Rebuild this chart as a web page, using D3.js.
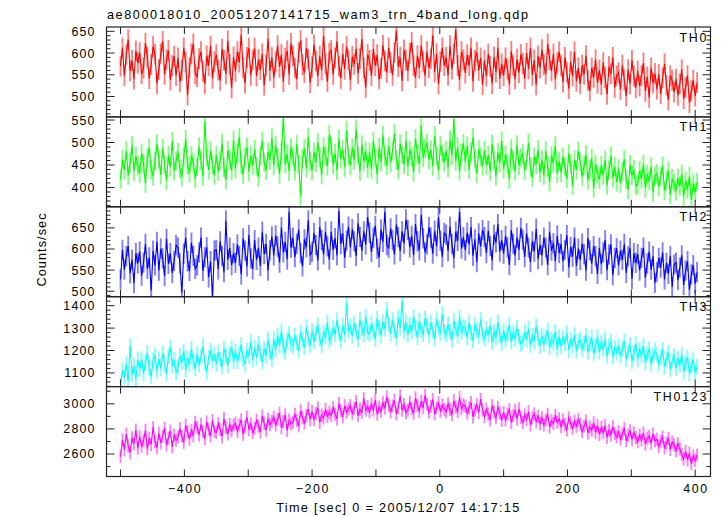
<!DOCTYPE html>
<html><head><meta charset="utf-8">
<script src="https://cdn.jsdelivr.net/npm/d3@7"></script>
<style>body{margin:0;background:#fff}svg{display:block}text{font-family:"Liberation Sans",Arial,Helvetica,sans-serif;fill:#000}</style>
</head><body>
<script>
// ---- data ----
const titleText = "ae800018010_20051207141715_wam3_trn_4band_long.qdp";
const xLabel = "Time [sec] 0 = 2005/12/07 14:17:15";
const yLabel = "Counts/sec";
const timeStart = -500, timeStep = 3;
const seriesNames = ["TH0", "TH1", "TH2", "TH3", "TH0123"];
const seriesErrors = [24, 21, 24, 34, 52];
const xTickLabels = [-400, -200, 0, 200, 400];
const th0 = [570,612,548,596,631,559,583,540,605,577, 601,552,566,623,590,541,574,615,597,530, 562,598,627,551,584,606,538,571,593,548, 589,534,560,612,579,503,566,598,621,552, 545,587,603,558,529,594,571,616,542,580, 596,561,537,609,583,552,628,574,520,591, 558,603,579,642,566,531,590,612,549,584, 611,547,585,562,598,526,572,633,559,590, 543,580,617,568,596,534,588,605,551,622, 594,566,540,601,629,573,555,612,586,532, 568,619,582,547,593,561,640,576,534,600, 606,551,589,627,570,542,598,563,615,584, 537,592,574,610,553,587,632,566,521,596, 583,548,609,571,596,540,565,618,582,555, 612,578,549,601,652,569,590,536,607,584, 559,600,625,571,543,594,565,617,580,548, 603,566,587,641,556,598,529,580,612,571, 590,549,617,563,598,655,571,538,603,584, 554,596,571,612,535,583,602,560,589,527, 583,547,598,569,530,591,556,612,541,575, 548,589,563,528,604,571,540,586,555,597, 576,541,600,563,612,549,584,527,593,566, 608,573,552,621,585,559,598,540,577,603, 571,533,590,556,518,580,547,603,535,566, 529,572,551,594,537,513,566,544,585,531, 561,527,578,543,505,569,552,590,521,548, 555,516,572,538,501,562,529,583,547,520, 559,524,548,577,512,545,498,566,531,553, 517,551,506,543,575,526,492,548,537,510, 540,503,529,562,495,521,548,486,513,537, 501,532];
const th1 = [418,462,439,481,427,455,494,436,470,448, 431,476,452,409,465,488,440,425,459,497, 463,428,487,451,416,472,445,503,437,460, 478,441,423,466,507,449,432,471,455,419, 446,490,461,425,548,468,439,482,451,427, 472,436,459,498,444,417,483,462,437,505, 441,476,512,452,428,466,490,435,471,448, 485,447,423,470,503,456,438,479,461,510, 449,493,466,430,481,555,452,474,436,488, 470,437,496,452,381,464,487,443,512,459, 438,479,455,501,466,428,490,471,447,518, 492,451,476,437,508,463,484,445,527,470, 449,488,461,530,472,436,495,458,481,443, 478,441,503,466,429,489,457,516,470,448, 492,455,481,520,462,439,497,473,451,505, 446,483,468,434,509,475,452,538,466,487, 499,461,484,447,515,470,438,493,476,456, 482,444,506,471,552,459,490,436,477,498, 457,493,440,478,512,463,431,485,468,447, 483,449,472,436,497,461,425,478,455,504, 441,472,453,418,487,460,436,495,449,466, 475,438,461,499,445,422,468,451,484,433, 462,427,481,446,412,470,455,493,431,458, 433,468,447,419,476,452,404,461,439,482, 457,424,448,473,416,441,465,398,452,430, 418,449,427,461,405,438,470,421,446,412, 442,409,436,463,418,395,451,427,440,404, 407,438,419,452,398,430,414,446,389,425, 431,402,424,448,393,416,437,384,420,409, 392,421,403,430,380,414,396,425,372,408, 389,412];
const th2 = [528,598,551,583,607,542,575,519,590,566, 594,537,568,612,553,580,502,596,561,617, 549,601,578,536,624,565,590,543,572,609, 603,566,497,589,627,571,548,615,584,553, 561,592,627,548,580,604,533,571,489,596, 598,552,618,583,545,667,574,603,562,590, 567,611,584,540,625,596,559,633,578,552, 621,574,603,560,641,588,612,549,597,630, 585,632,606,568,651,592,617,575,688,603, 627,581,612,646,590,559,623,604,668,586, 594,638,609,573,652,621,587,641,606,575, 641,598,626,585,690,612,637,579,620,653, 604,647,618,583,661,629,596,642,611,676, 638,593,627,655,601,580,646,617,688,609, 603,649,621,587,658,628,595,642,613,670, 645,604,631,586,659,618,597,681,625,592, 611,652,627,589,643,606,675,620,581,638, 634,595,653,612,578,641,619,688,601,628, 597,639,611,652,584,623,569,637,606,645, 628,590,643,607,573,634,616,659,594,621, 589,631,604,562,645,612,585,627,598,650, 622,581,637,603,569,618,594,648,576,610, 585,627,603,562,641,596,614,571,632,590, 612,571,598,633,556,605,582,627,560,601, 574,613,588,549,626,597,565,607,583,541, 603,564,592,621,550,587,611,538,579,602, 561,596,574,612,543,583,602,529,590,567, 588,549,579,603,532,566,594,551,583,520, 545,579,556,592,528,567,541,584,510,563, 568,527,556,585,515,549,571,503,540,562, 518,545];
const th3 = [1045,1112,1078,1140,1063,1221,1094,1131,1072,1158, 1117,1162,1098,1145,1189,1121,1083,1156,1176,1109, 1163,1120,1188,1141,1097,1174,1215,1132,1158,1101, 1127,1176,1148,1196,1113,1165,1139,1208,1152,1118, 1185,1137,1172,1219,1146,1103,1168,1201,1153,1184, 1141,1192,1160,1127,1208,1176,1133,1185,1214,1150, 1198,1152,1183,1226,1164,1139,1201,1176,1237,1158, 1214,1167,1232,1185,1148,1209,1176,1251,1193,1160, 1252,1204,1268,1223,1287,1215,1191,1248,1276,1230, 1219,1266,1235,1198,1280,1246,1213,1305,1252,1224, 1287,1241,1276,1315,1250,1223,1281,1263,1326,1244, 1258,1301,1272,1336,1280,1242,1313,1269,1412,1290, 1306,1263,1321,1284,1249,1338,1297,1270,1352,1281, 1274,1319,1288,1251,1343,1302,1266,1328,1297,1382, 1318,1276,1337,1291,1255,1346,1302,1420,1285,1327, 1269,1314,1282,1351,1297,1258,1333,1290,1272,1345, 1312,1267,1326,1289,1252,1340,1301,1275,1364,1283, 1271,1318,1283,1247,1332,1296,1263,1349,1280,1305, 1302,1258,1324,1281,1243,1315,1290,1262,1338,1273, 1252,1296,1268,1311,1237,1284,1259,1327,1265,1234, 1288,1246,1273,1315,1238,1279,1252,1302,1261,1229, 1237,1281,1250,1298,1224,1266,1241,1310,1255,1219, 1268,1226,1259,1291,1213,1250,1237,1284,1204,1262, 1218,1257,1231,1279,1202,1246,1221,1270,1196,1240, 1249,1206,1232,1268,1193,1230,1257,1187,1221,1261, 1194,1235,1208,1250,1176,1219,1241,1171,1213,1189, 1218,1174,1206,1243,1161,1198,1225,1152,1190,1231, 1162,1203,1178,1221,1146,1185,1207,1139,1176,1198, 1183,1141,1167,1205,1128,1162,1190,1117,1154,1176, 1121,1163,1138,1182,1104,1146,1169,1097,1133,1158, 1102,1128];
const th0123 = [2580,2712,2635,2758,2664,2611,2729,2683,2791,2647, 2738,2662,2705,2789,2641,2726,2677,2812,2698,2651, 2765,2689,2742,2806,2671,2728,2783,2656,2749,2710, 2735,2802,2741,2693,2829,2775,2718,2790,2746,2852, 2814,2752,2836,2779,2721,2855,2798,2743,2867,2782, 2771,2843,2795,2738,2881,2810,2759,2834,2786,2826, 2846,2780,2829,2872,2757,2818,2895,2794,2840,2771, 2805,2868,2821,2776,2903,2842,2790,2877,2833,2861, 2893,2831,2876,2925,2809,2858,2912,2786,2871,2840, 2852,2917,2868,2823,2944,2891,2847,2908,2960,2874, 2938,2876,2921,2969,2852,2910,2887,2956,2899,2931, 2907,2971,2919,2880,3002,2945,2896,2984,2932,2958, 2986,2921,2963,3018,2905,2957,2932,3041,2949,2978, 2934,2997,2951,3032,2918,2972,2940,3009,2964,3055, 2991,2937,2983,3028,2920,2969,3064,2948,2995,2929, 2948,3012,2963,2924,3047,2985,2941,3021,2970,3068, 2996,2932,2978,3035,2919,2967,3008,2941,2990,2956, 2937,3001,2955,2913,3026,2972,2938,3049,2961,2992, 2981,2924,2967,3010,2896,2948,2993,2931,3037,2952, 2897,2959,2915,2872,2986,2934,2889,2971,2926,2868, 2932,2871,2918,2955,2852,2907,2946,2879,2960,2893, 2851,2912,2873,2937,2830,2889,2921,2858,2901,2842, 2889,2832,2870,2917,2815,2865,2843,2906,2851,2880, 2818,2871,2836,2794,2889,2847,2806,2862,2821,2875, 2837,2779,2822,2861,2768,2815,2790,2849,2771,2826, 2756,2811,2772,2825,2733,2789,2752,2818,2764,2735, 2778,2719,2761,2802,2705,2748,2785,2716,2769,2731, 2697,2751,2712,2768,2679,2725,2742,2686,2759,2703, 2718,2661,2702,2735,2649,2687,2724,2636,2695,2671, 2627,2682,2641,2598,2560,2622,2553,2606,2521,2584, 2548,2592];
const yTickLabels = [[500,550,600,650],[400,450,500,550],[500,550,600,650],[1100,1200,1300,1400],[2600,2800,3000]];

// ---- layout / style ----
const seriesValues = [th0, th1, th2, th3, th0123];
const yDomains = [[453,660],[357,557],[487,700],[1039,1440],[2421,3137]];
const minorSteps = [10,10,10,20,100];
const colors = ["#ff0000","#00ff00","#0000ff","#00ffff","#ff00ff"];
const W = 722, H = 516;
const plotLeft = 106.5, plotRight = 710.5, plotTop = 27, plotBottom = 476.5;
const panelH = (plotBottom - plotTop) / 5;
const frameColor = "#222";
const FS = 12.4;

const svg = d3.select("body").append("svg").attr("width", W).attr("height", H);
const x = d3.scaleLinear().domain([-522, 424]).range([plotLeft, plotRight]);

function spread(sel, ls) {
  sel.each(function() {
    const n = this.textContent.length;
    const w = this.getComputedTextLength();
    d3.select(this).attr("textLength", w + (n - 1) * ls).attr("lengthAdjust", "spacing");
  });
  return sel;
}

svg.append("text").attr("x", 107).attr("y", 19).attr("font-size", FS + 0.3)
  .attr("textLength", 421).attr("lengthAdjust", "spacing").text(titleText);

const xMinor = d3.range(-500, 401, 100);

seriesValues.forEach((vals, p) => {
  const y0 = plotTop + p * panelH, y1 = y0 + panelH;
  const y = d3.scaleLinear().domain(yDomains[p]).range([y1, y0]);
  const g = svg.append("g");
  const cid = "clip" + p;
  svg.append("clipPath").attr("id", cid).append("rect")
    .attr("x", plotLeft).attr("y", y0).attr("width", plotRight - plotLeft).attr("height", panelH);
  const data = vals.map((v, i) => ({t: timeStart + i * timeStep, v}));
  const err = seriesErrors[p];
  const dg = g.append("g").attr("clip-path", `url(#${cid})`);
  dg.append("path")
    .attr("d", data.map(d => `M${x(d.t).toFixed(2)},${y(d.v - err).toFixed(2)}V${y(d.v + err).toFixed(2)}`).join(""))
    .attr("stroke", colors[p]).attr("stroke-opacity", 0.5).attr("stroke-width", 1.9).attr("fill", "none");
  dg.append("path").datum(data)
    .attr("d", d3.line().x(d => x(d.t)).y(d => y(d.v)))
    .attr("stroke", colors[p]).attr("stroke-width", 1.1).attr("fill", "none");

  g.append("rect").attr("x", plotLeft).attr("y", y0).attr("width", plotRight - plotLeft).attr("height", panelH)
    .attr("fill", "none").attr("stroke", frameColor).attr("stroke-width", 1.2);

  xMinor.forEach(t => {
    g.append("line").attr("x1", x(t)).attr("x2", x(t)).attr("y1", y1).attr("y2", y1 - 7).attr("stroke", frameColor);
    g.append("line").attr("x1", x(t)).attr("x2", x(t)).attr("y1", y0).attr("y2", y0 + 7).attr("stroke", frameColor);
  });
  const ms = minorSteps[p];
  const dom = yDomains[p];
  d3.range(Math.ceil(dom[0] / ms) * ms, dom[1], ms).forEach(v => {
    const major = yTickLabels[p].includes(v);
    const len = major ? 8 : 4;
    g.append("line").attr("x1", plotLeft).attr("x2", plotLeft + len).attr("y1", y(v)).attr("y2", y(v)).attr("stroke", frameColor);
    g.append("line").attr("x1", plotRight).attr("x2", plotRight - len).attr("y1", y(v)).attr("y2", y(v)).attr("stroke", frameColor);
  });
  yTickLabels[p].forEach(v => {
    spread(g.append("text").attr("x", 94.5).attr("y", y(v)).attr("dy", "0.36em")
      .attr("text-anchor", "end").attr("font-size", FS).text(v), 1.2);
  });
  spread(g.append("text").attr("x", 706.5).attr("y", y0 + 14.5).attr("text-anchor", "end")
    .attr("font-size", FS).text(seriesNames[p]), 1.8);
});

xTickLabels.forEach(t => {
  spread(svg.append("text").attr("x", x(t)).attr("y", 492.7).attr("text-anchor", "middle")
    .attr("font-size", FS).text(t === 0 ? "0" : (t < 0 ? "\u2212" + Math.abs(t) : t)), 1.6);
});
svg.append("text").attr("x", 397.7).attr("y", 511.5).attr("text-anchor", "middle").attr("font-size", FS + 0.3)
  .attr("textLength", 243).attr("lengthAdjust", "spacing").text(xLabel);
svg.append("text").attr("transform", "translate(46,250) rotate(-90)").attr("text-anchor", "middle")
  .attr("font-size", FS + 0.3).attr("textLength", 73).attr("lengthAdjust", "spacing").text(yLabel);
</script>
</body></html>
